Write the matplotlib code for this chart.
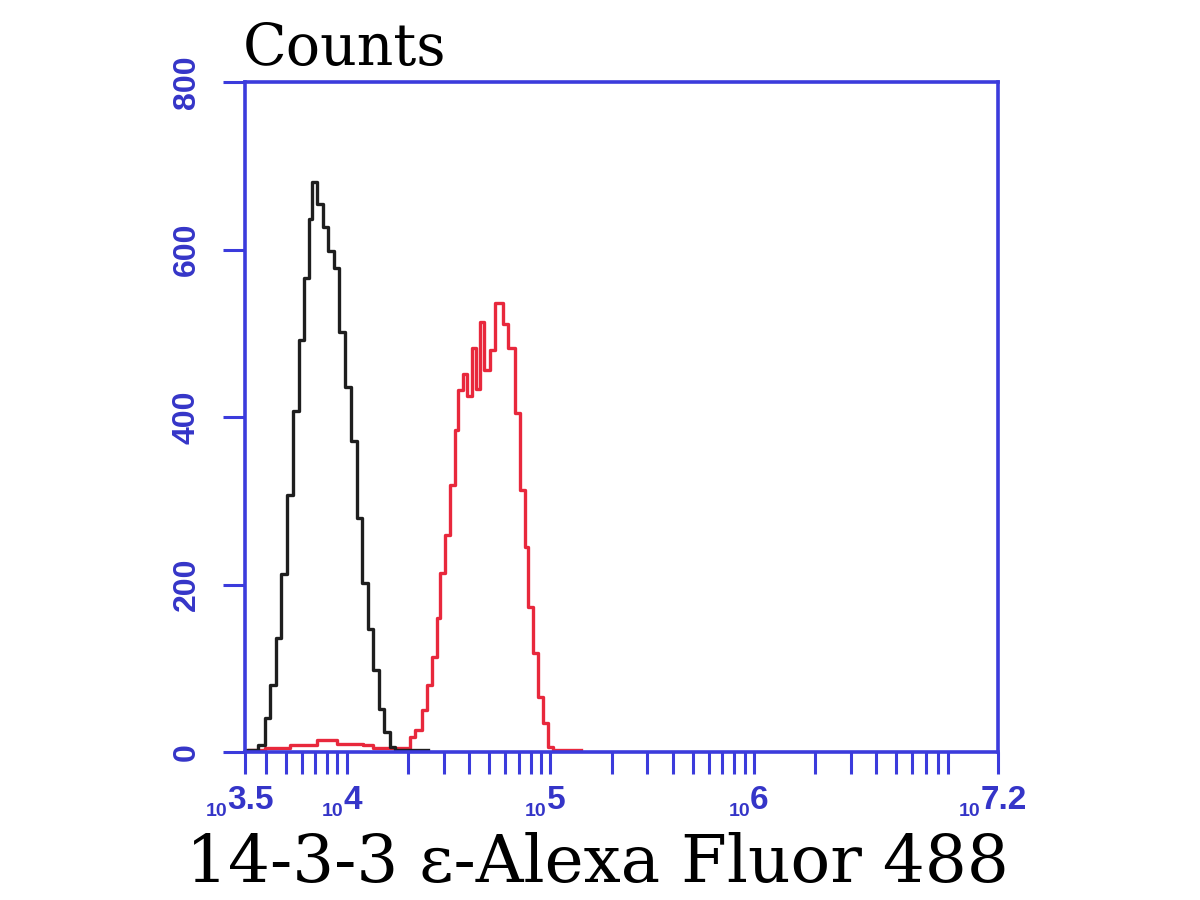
import numpy as np
import matplotlib
matplotlib.use('Agg')
import matplotlib.pyplot as plt
from matplotlib.ticker import LogLocator, NullFormatter, FixedLocator
import matplotlib.transforms as mtransforms

# histogram steps: left edge (log10 of intensity) and counts
black_log = [3.500, 3.564, 3.596, 3.623, 3.652, 3.679, 3.706, 3.736, 3.763, 3.790,
             3.812, 3.828, 3.854, 3.881, 3.908, 3.937, 3.964, 3.991, 4.021, 4.048,
             4.075, 4.102, 4.129, 4.156, 4.183, 4.210, 4.237, 4.311, 4.400]
black_counts = [3, 8, 41, 80, 136, 213, 307, 407, 492, 566,
                636, 681, 655, 627, 598, 578, 501, 436, 372, 280,
                202, 147, 98, 51, 24, 6, 3, 2, 2]

red_log = [3.520, 3.598, 3.721, 3.854, 3.952, 4.080, 4.129, 4.311, 4.335, 4.368,
           4.393, 4.417, 4.442, 4.458, 4.483, 4.507, 4.532, 4.548, 4.573, 4.590,
           4.614, 4.635, 4.655, 4.674, 4.704, 4.729, 4.768, 4.792, 4.827, 4.851,
           4.876, 4.891, 4.915, 4.940, 4.964, 4.989, 5.013, 5.150]
red_counts = [2, 5, 8, 14, 10, 8, 5, 18, 26, 50,
              80, 114, 160, 214, 259, 319, 384, 432, 452, 425,
              482, 434, 514, 456, 480, 536, 511, 482, 405, 313,
              245, 173, 118, 66, 35, 6, 3, 3]

y_ticks = [0, 200, 400, 600, 800]
x_exponents = ['3.5', '4', '5', '6', '7.2']

blue = '#3b3bdc'
label_blue = '#3535c8'

fig = plt.figure(figsize=(12, 9), dpi=100)
ax = fig.add_axes([0.2042, 0.1644, 0.6275, 0.7444])

ax.step(10 ** np.array(red_log), red_counts, where='post', color='#e8283c', lw=2.4)
ax.step(10 ** np.array(black_log), black_counts, where='post', color='#1e1e1e', lw=2.4)

ax.set_xscale('log')
ax.set_xlim(10 ** 3.5, 10 ** 7.2)
ax.set_ylim(0, 800)

for s in ax.spines.values():
    s.set_color(blue)
    s.set_linewidth(2.6)
    s.set_zorder(5)

# x ticks
xpos = [10 ** float(e) for e in x_exponents]
ax.xaxis.set_major_locator(FixedLocator(xpos))
ax.xaxis.set_minor_locator(LogLocator(base=10, subs=np.arange(2, 10)))
ax.xaxis.set_major_formatter(NullFormatter())
ax.xaxis.set_minor_formatter(NullFormatter())
ax.tick_params(axis='x', which='both', direction='out', length=16, width=2.2, color=blue)

# y ticks
ax.set_yticks(y_ticks)
ax.set_yticklabels([str(v) for v in y_ticks], rotation=90, va='center',
                   family='Liberation Sans', fontweight='bold', fontsize=23,
                   color=label_blue)
ax.tick_params(axis='y', direction='out', length=16, width=2.2, color=blue, pad=15)

# x tick labels drawn as "10" + exponent
for e, xv in zip(x_exponents, xpos):
    trans = mtransforms.blended_transform_factory(ax.transData, ax.transAxes) + \
        mtransforms.ScaledTranslation(4 / 72, -41 / 72, fig.dpi_scale_trans)
    t = ax.text(xv, 0, e, transform=trans, ha='center', va='baseline',
                family='Liberation Sans', fontweight='bold', fontsize=24,
                color=label_blue, clip_on=False)
    ax.annotate('10', xy=(0, 0), xycoords=t, xytext=(0, -3), textcoords='offset points',
                ha='right', va='bottom', family='Liberation Sans', fontweight='bold',
                fontsize=14, color=label_blue, annotation_clip=False)

fig.text(243 / 1200, 1 - 65 / 900, 'Counts', family='DejaVu Serif', fontsize=41,
         ha='left', va='baseline', color='black')
fig.text(186 / 1200, 1 - 882 / 900, '14-3-3 ε-Alexa Fluor 488', family='DejaVu Serif',
         fontsize=47.5, ha='left', va='baseline', color='black')

fig.savefig('out.png', dpi=100)
